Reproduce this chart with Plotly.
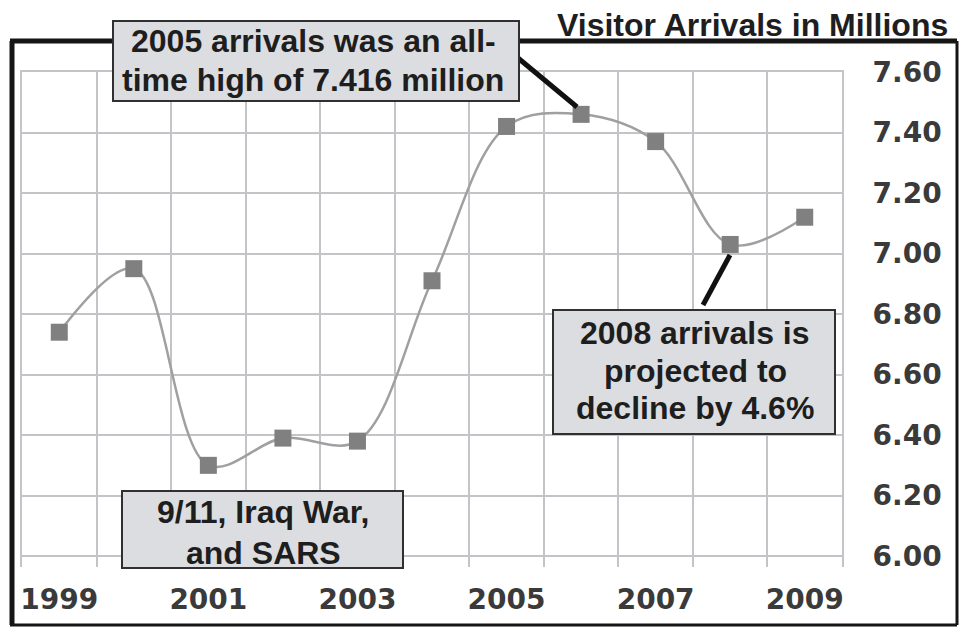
import plotly.graph_objects as go

# ---------------- data ----------------
years = [1999, 2000, 2001, 2002, 2003, 2004, 2005, 2006, 2007, 2008, 2009]
arrivals = [6.74, 6.95, 6.30, 6.39, 6.38, 6.91, 7.42, 7.46, 7.37, 7.03, 7.12]

x_tick_vals = [1999, 2001, 2003, 2005, 2007, 2009]
x_tick_text = ["1999", "2001", "2003", "2005", "2007", "2009"]
x_grid_vals = [1998.5, 1999.5, 2000.5, 2001.5, 2002.5, 2003.5, 2004.5,
               2005.5, 2006.5, 2007.5, 2008.5, 2009.5]
y_tick_vals = [6.00, 6.20, 6.40, 6.60, 6.80, 7.00, 7.20, 7.40, 7.60]
y_tick_text = ["6.00", "6.20", "6.40", "6.60", "6.80", "7.00", "7.20", "7.40", "7.60"]

title_text = "Visitor Arrivals in Millions"
note_high = ["2005 arrivals was an all-", "time high of 7.416 million"]
note_decline = ["2008 arrivals is", "projected to", "decline by 4.6%"]
note_events = ["9/11, Iraq War,", "and SARS"]

# ---------------- geometry helpers ----------------
W, H = 960, 628
L, R, T, B = 22, 118, 72, 61
PW, PH = W - L - R, H - T - B


def px(x):
    return (x - L) / PW


def py(y):
    return (H - B - y) / PH


GRID = "#c3c4c8"
BOXFILL = "#dcdde0"
TXT = "#1e1e1e"
BOXFONT = dict(family="Liberation Sans", size=32, color=TXT, weight="bold")
TICKFONT = dict(family="DejaVu Sans", size=28, color="#3a3a3a", weight="bold")

fig = go.Figure()
fig.add_trace(go.Scatter(
    x=years, y=arrivals, mode="lines",
    line=dict(color="#a0a0a0", width=2.5, shape="spline", smoothing=1.0),
    hoverinfo="skip",
))
fig.add_trace(go.Scatter(
    x=years, y=arrivals, mode="markers",
    marker=dict(symbol="square", size=17, color="#808080"),
))
# invisible trace for the top axis (grid frame edge)
fig.add_trace(go.Scatter(x=[years[0]], y=[arrivals[0]], xaxis="x2",
                         mode="markers", marker=dict(opacity=0), hoverinfo="skip"))

xr = [x_grid_vals[0], x_grid_vals[-1]]
yr = [5.964, 7.60]

fig.update_layout(
    width=W, height=H,
    margin=dict(l=L, r=R, t=T, b=B, pad=0),
    paper_bgcolor="white", plot_bgcolor="white",
    showlegend=False,
    xaxis=dict(
        range=xr, tickmode="array", tickvals=x_tick_vals, ticktext=x_tick_text,
        showgrid=False, zeroline=False, showline=False, ticks="",
        tickfont=TICKFONT, ticklabelstandoff=13,
        minor=dict(tickmode="array", tickvals=x_grid_vals, showgrid=True,
                   gridcolor=GRID, gridwidth=2, ticks=""),
    ),
    xaxis2=dict(
        range=xr, overlaying="x", side="top", showgrid=False, zeroline=False,
        showticklabels=False, showline=True, linecolor=GRID, linewidth=2, ticks="",
    ),
    yaxis=dict(
        range=yr, side="right", tickmode="array", tickvals=y_tick_vals, ticktext=y_tick_text,
        showgrid=True, gridcolor=GRID, gridwidth=2, zeroline=False,
        showline=True, mirror=True, linecolor=GRID, linewidth=2, ticks="",
        tickfont=TICKFONT, ticklabelstandoff=23,
    ),
)

shapes = []
# outer frame
shapes.append(dict(type="line", xref="paper", yref="paper", x0=px(12), x1=px(12), y0=py(41), y1=py(625),
                   line=dict(color="#151515", width=5), layer="above"))
shapes.append(dict(type="line", xref="paper", yref="paper", x0=px(10), x1=px(957), y0=py(41), y1=py(41),
                   line=dict(color="#151515", width=5), layer="above"))
shapes.append(dict(type="line", xref="paper", yref="paper", x0=px(957), x1=px(957), y0=py(41), y1=py(625),
                   line=dict(color="#151515", width=3), layer="above"))
shapes.append(dict(type="line", xref="paper", yref="paper", x0=px(10), x1=px(957), y0=py(625), y1=py(625),
                   line=dict(color="#151515", width=3), layer="above"))


def box(x0, y0, x1, y1):
    shapes.append(dict(type="rect", xref="paper", yref="paper",
                       x0=px(x0), x1=px(x1), y0=py(y1), y1=py(y0),
                       fillcolor=BOXFILL, line=dict(color="#303030", width=2), layer="above"))


def leader(x0, y0, x1, y1):
    shapes.append(dict(type="line", xref="paper", yref="paper",
                       x0=px(x0), x1=px(x1), y0=py(y0), y1=py(y1),
                       line=dict(color="#111111", width=5), layer="above"))


leader(518, 58, 577, 107)
leader(703, 305, 730, 255)
box(113, 21, 519, 101)
box(553, 310, 835, 434)
box(122, 491, 403, 568)
fig.update_layout(shapes=shapes)

annotations = []


def lines_at(texts, cx, ys):
    for t, yy in zip(texts, ys):
        annotations.append(dict(text=t, xref="paper", yref="paper", x=px(cx), y=py(yy),
                                xanchor="center", yanchor="middle", showarrow=False, font=BOXFONT))


lines_at(note_high, 313, [41, 80])
lines_at(note_decline, 695, [333, 371, 408])
lines_at(note_events, 263, [512, 553])
annotations.append(dict(text=title_text, xref="paper", yref="paper", x=px(950), y=py(25),
                        xanchor="right", yanchor="middle", showarrow=False, font=BOXFONT))
fig.update_layout(annotations=annotations)

fig.write_html("out.html", config={"displayModeBar": False},
               post_script="document.body.style.margin='0px';")
